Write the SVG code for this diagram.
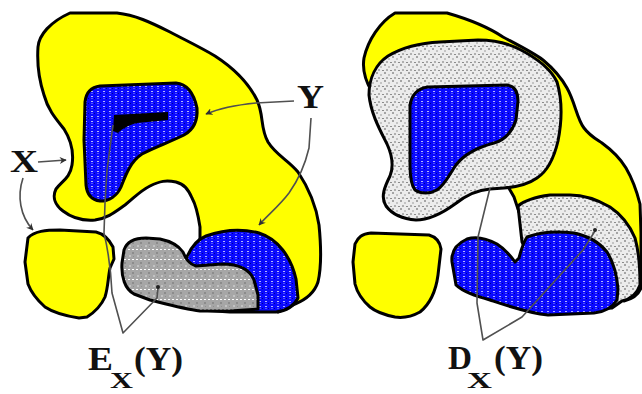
<svg xmlns="http://www.w3.org/2000/svg" width="642" height="394" viewBox="0 0 642 394">
<defs>
<style>
.reg{stroke:#000;stroke-width:3;stroke-linejoin:round}
.yel{fill:#ffff00}
.blu{fill:url(#pBlue)}
.gry{fill:url(#pGray)}
.dot{fill:url(#pDot)}
.con{fill:none;stroke:#505050;stroke-width:1.6;stroke-linejoin:round}
.lbl{font-family:"Liberation Serif","Times New Roman",serif;font-weight:bold;fill:#111}
</style>
<pattern id="pBlue" width="6" height="5" patternUnits="userSpaceOnUse">
<rect width="6" height="5" fill="#0a0aff"/>
<rect x="1" y="1" width="2" height="1" fill="#b4b4ff"/>
<rect x="4" y="3" width="1" height="1" fill="#000090"/>
<rect x="1" y="3" width="2" height="1" fill="#5050ff"/>
</pattern>
<pattern id="pGray" width="8" height="10" patternUnits="userSpaceOnUse">
<rect width="8" height="10" fill="#a6a6a6"/>
<rect x="4" y="2" width="2" height="2" fill="#8c8c8c"/>
<rect x="1" y="5" width="2" height="2" fill="#c2c2c2"/>
<rect x="5" y="6" width="1" height="1" fill="#909090"/>
<rect x="0" y="9" width="2" height="1" fill="#ffffff"/>
<rect x="4" y="9" width="2" height="1" fill="#ffffff"/>
</pattern>
<pattern id="pDot" width="8" height="8" patternUnits="userSpaceOnUse">
<rect width="8" height="8" fill="#ececec"/>
<rect x="0" y="0" width="2" height="2" fill="#a4a4a4"/>
<rect x="4" y="2" width="2" height="2" fill="#c4c4c4"/>
<rect x="2" y="5" width="2" height="2" fill="#b0b0b0"/>
<rect x="6" y="6" width="2" height="1" fill="#8c8c8c"/>
</pattern>
<marker id="arr" viewBox="0 0 10 10" refX="9" refY="5" markerWidth="7" markerHeight="7" markerUnits="userSpaceOnUse" orient="auto">
<path d="M0,0 L10,5 L0,10 L3,5 Z" fill="#303030"/>
</marker>
</defs>
<rect width="642" height="394" fill="#ffffff"/>

<g id="left-diagram">
<path id="L-yellow" class="reg yel" d="M200,240 L200,227 C198,214 196,205 192,198 C188,189 184,184 176,182 C166,180 160,181 150,186 C140,191 135,197 125,205 C115,212 108,218 95,220 C83,221 72,218 63,211 C55,205 52,197 56,189 C62,181 70,178 72,165 C74,152 71,140 64,129 C56,119 48,110 44,95 C39,80 37,62 38,47 C39,35 50,22 70,13 L117,13 C135,15 150,22 170,32 C185,40 200,47 215,56 C232,67 248,82 257,100 C264,115 260,128 268,142 C276,155 288,160 298,172 C310,190 316,205 319,225 C321,245 322,265 318,282 C314,294 305,300 295,304 C288,308 283,310 278,312 L240,270 Z"/>
<path id="L-small-yellow" class="reg yel" d="M28,238 C34,231 46,230 60,230 L96,232 C104,234 109,239 113,247 L114,259 L110,268 C108,278 108,288 105,297 C101,306 95,312 87,317 L79,318 C66,316 54,313 45,307 C36,299 31,292 28,284 L25,262 Z"/>
<path id="L-top-blue" class="reg blu" d="M85,102 C86,93 91,87 100,86 L176,83 C187,84 194,94 197,108 C198,121 193,130 184,135 C170,142 155,147 142,154 C131,161 126,174 121,187 C117,196 109,201 100,201 C92,200 87,195 86,185 L84,140 Z"/>
<path id="L-hole" d="M114,115 L168,112 L168,120 L137,123 C129,125 123,128 118,133 L113,131 Z" fill="#000"/>
<path id="L-bottom-blue" class="reg blu" d="M186,259 C190,249 196,240 206,236 C220,231 240,228 259,233 C278,239 291,257 296,279 L298,298 C294,306 286,311 276,312 L230,312 L200,310 Z"/>
<path id="L-gray" class="reg gry" d="M124,250 C127,241 135,238 146,238 L160,239 C170,241 178,245 183,252 C186,259 189,264 196,266 L222,264 C239,264 250,270 254,280 L258,295 L258,309 L230,311 L200,311 C184,309 166,304 150,300 L134,294 C125,289 121,277 122,263 Z"/>
</g>

<g id="right-diagram">
<path id="R-yellow" class="reg yel" d="M372,92 C366,82 362,70 364,58 C368,40 380,22 395,13 L447,13 C468,19 488,27 503,37 C520,46 534,53 543,60 C555,70 562,79 567,88 C575,102 577,119 584,128 C590,136 596,139 602,143 C613,151 620,158 626,168 C633,180 637,192 640,204 L641,233 L641,288 C638,296 632,299 624,301 L600,240 L540,225 L519,212 L514,197 L510,190 L500,170 L400,100 Z"/>
<path id="R-dot-top" class="reg dot" d="M369,95 C369,78 376,64 388,56 C403,47 420,43 440,42 L478,40 C494,40 508,43 521,50 C538,59 551,69 557,82 C562,99 562,121 558,141 C554,158 548,171 537,178 C527,185 517,187 504,188 L490,189 C476,190 465,196 455,204 C444,212 431,220 416,220 C402,219 392,214 386,206 C380,197 385,186 390,176 C394,166 392,155 387,144 C380,130 371,114 369,95 Z"/>
<path id="R-dot-bottom" class="reg dot" d="M518,206 C525,200 535,197 550,195 L570,195 C585,195 598,200 610,207 C622,215 630,226 635,238 C639,252 640,268 640,285 C637,294 631,299 622,301 L612,308 L560,312 L522,242 Z"/>
<path id="R-top-blue" class="reg blu" d="M410,106 C411,95 418,88 428,87 L507,85 C515,86 518,92 518,101 L516,120 C512,132 505,140 494,143 C479,147 465,153 456,165 C449,175 445,185 437,190 C430,194 421,194 415,190 C411,185 410,176 410,165 Z"/>
<path id="R-bottom-blue" class="reg blu" d="M452,262 C451,252 456,244 467,239 C476,236 486,238 497,244 C505,249 510,255 515,262 L519,258 C521,250 523,243 527,237 C540,232 558,231 574,233 C589,236 600,243 607,252 C614,263 617,276 618,289 L617,300 C612,308 605,312 594,313 L548,315 C528,313 508,306 490,300 C476,296 463,292 456,285 Z"/>
<path id="R-small-yellow" class="reg yel" d="M355,244 C358,237 362,234 371,233 L429,235 C436,237 440,242 441,249 L438,275 C436,290 430,304 420,312 C411,317 402,318 395,317 C385,315 376,312 370,307 C362,300 357,292 355,284 L353,262 Z"/>
</g>

<g id="connectors">
<path class="con" d="M294,101 L256,103 C236,105 220,108 206,114" marker-end="url(#arr)"/>
<path class="con" d="M311,118 L309,148 C305,165 299,179 289,193 C280,205 268,215 259,225" marker-end="url(#arr)"/>
<path class="con" d="M38,162 L66,160" marker-end="url(#arr)"/>
<path class="con" d="M23,178 C17,196 20,216 33,230" marker-end="url(#arr)"/>
<path class="con" d="M113,125 L107,170 L105,203 L104,233 C108,250 111,270 112,293 L123,333 L157,298 L158,288"/>
<circle cx="158" cy="287" r="2" fill="#202020"/>
<path class="con" d="M490,188 L478,237 L477,303 L483,340 L522,317 L583,250 L595,231"/>
<circle cx="595" cy="230" r="2" fill="#202020"/>
</g>

<g id="labels">
<text class="lbl" x="297" y="108" font-size="33" textLength="27" lengthAdjust="spacingAndGlyphs">Y</text>
<text class="lbl" x="10" y="172" font-size="32" textLength="28" lengthAdjust="spacingAndGlyphs">X</text>
<text class="lbl" x="88" y="370" font-size="33" textLength="25" lengthAdjust="spacingAndGlyphs">E</text>
<text class="lbl" x="110" y="388" font-size="24" textLength="23" lengthAdjust="spacingAndGlyphs">X</text>
<text class="lbl" x="134" y="370" font-size="33" textLength="49" lengthAdjust="spacingAndGlyphs">(Y)</text>
<text class="lbl" x="448" y="369" font-size="33" textLength="24" lengthAdjust="spacingAndGlyphs">D</text>
<text class="lbl" x="467" y="388" font-size="24" textLength="25" lengthAdjust="spacingAndGlyphs">X</text>
<text class="lbl" x="494" y="369" font-size="33" textLength="49" lengthAdjust="spacingAndGlyphs">(Y)</text>
</g>
</svg>
